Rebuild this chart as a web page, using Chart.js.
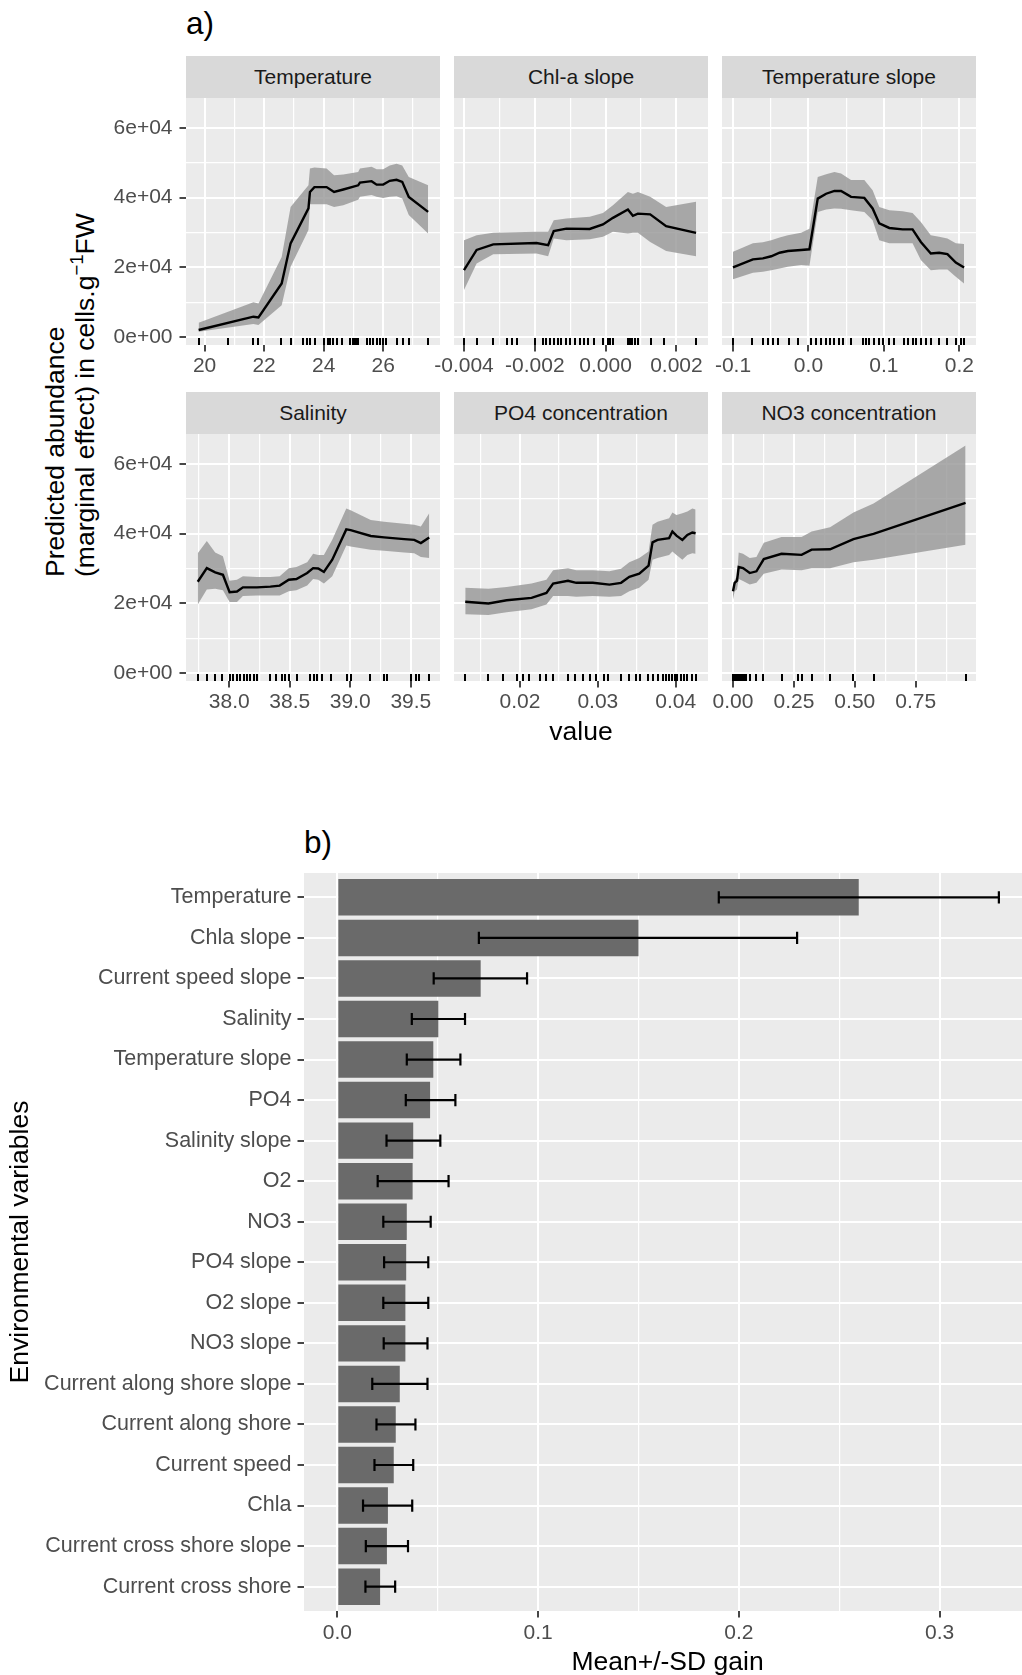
<!DOCTYPE html>
<html>
<head>
<meta charset="utf-8">
<script src="https://cdn.jsdelivr.net/npm/chart.js@4.4.1/dist/chart.umd.min.js"></script>
<style>
html,body{margin:0;padding:0;background:#fff;overflow:hidden;width:1022px;height:1675px;}
body{position:relative;font-family:"Liberation Sans",Arial,sans-serif;}
canvas{position:absolute;}
.strip{position:absolute;background:#D9D9D9;color:#1A1A1A;font-size:21px;display:flex;align-items:center;justify-content:center;white-space:nowrap;}
.tag{position:absolute;font-size:31.5px;line-height:31.5px;color:#000;}
#ytitle{position:absolute;left:40px;top:577px;transform-origin:0 0;transform:rotate(-90deg);font-size:26.5px;line-height:30px;white-space:nowrap;color:#000;}
#ytitle sup{font-size:70%;line-height:0;vertical-align:0.6em;}
</style>
</head>
<body>
<div class="tag" style="left:186px;top:8px;">a)</div>
<div class="tag" style="left:304px;top:827px;">b)</div>
<div id="ytitle">Predicted abundance<br>(marginal effect) in cells.g<sup>−1</sup>FW</div>

<script>
// ---------------- DATA : panel a) partial dependence ----------------
const stripTitles = ['Temperature','Chl-a slope','Temperature slope','Salinity','PO4 concentration','NO3 concentration'];

const yTickVals = [0, 20000, 40000, 60000];
const yTickLabels = ['0e+00','2e+04','4e+04','6e+04'];

// Temperature
const tempX    = [19.80, 21.64, 21.81, 22.59, 22.89, 23.49, 23.54, 23.69, 24.10, 24.35, 24.66, 25.16, 25.22, 25.61, 25.78, 26.00, 26.22, 26.45, 26.64, 26.86, 27.51];
const tempMean = [2100, 5900, 5700, 15400, 26900, 36900, 41600, 43000, 43000, 41600, 42300, 43500, 44300, 44700, 43700, 43700, 44800, 45100, 44500, 40200, 35900];
const tempHigh = [4200, 10000, 9700, 23000, 37300, 43500, 48300, 48600, 48300, 46400, 46600, 47300, 48300, 48800, 48100, 48100, 49200, 49700, 49200, 45900, 43500];
const tempLow  = [1600, 3800, 3500, 9200, 20200, 30700, 38100, 38100, 38100, 37300, 37800, 39400, 40200, 40700, 40200, 39900, 40200, 40400, 39700, 35000, 29700];
const tempRug  = [19.80, 20.80, 21.62, 21.81, 22.57, 22.89, 23.32, 23.43, 23.54, 23.71, 24.01, 24.16, 24.23, 24.32, 24.44, 24.60, 24.88, 24.99, 25.05, 25.11, 25.16, 25.44, 25.55, 25.66, 25.78, 25.89, 26.00, 26.11, 26.45, 26.67, 26.87, 27.51];
const tempTicks = [20, 22, 24, 26];
const tempTickLabels = ['20','22','24','26'];

// Chl-a slope
const chlX    = [-0.00400, -0.003643, -0.003174, -0.001953, -0.001624, -0.001465, -0.001108, -0.000451, -0.000075, 0.000207, 0.000629, 0.000770, 0.000911, 0.001258, 0.001709, 0.002554];
const chlMean = [19200, 25000, 26600, 27000, 26400, 30400, 31100, 31000, 32300, 34200, 36600, 34800, 35400, 35200, 31800, 29900];
const chlHigh = [27800, 29200, 29900, 30200, 30200, 33500, 34000, 34500, 35600, 37800, 41600, 41100, 41600, 40200, 37300, 38800];
const chlLow  = [13500, 21100, 23800, 24000, 23200, 28300, 27800, 28100, 28800, 30200, 29700, 29900, 29900, 27300, 24700, 23200];
const chlRug  = [-0.004000, -0.003643, -0.003174, -0.002798, -0.002657, -0.002498, -0.002000, -0.001765, -0.001671, -0.001577, -0.001465, -0.001343, -0.001249, -0.001108, -0.000995, -0.000873, -0.000732, -0.000620, -0.000498, -0.000338, -0.000075, 0.000066, 0.000131, 0.000207, 0.000629, 0.000676, 0.000751, 0.000817, 0.000911, 0.001286, 0.001662, 0.002554];
const chlTicks = [-0.004, -0.002, 0.000, 0.002];
const chlTickLabels = ['-0.004','-0.002','0.000','0.002'];

// Temperature slope
const tsX    = [-0.1000, -0.0736, -0.0604, -0.0493, -0.0383, -0.0273, -0.0097, 0.0013, 0.0123, 0.0234, 0.0344, 0.0432, 0.0564, 0.0740, 0.0850, 0.0938, 0.1071, 0.1247, 0.1379, 0.1489, 0.1621, 0.1731, 0.1841, 0.1952, 0.2062];
const tsMean = [20000, 22300, 22600, 23200, 24200, 24700, 25000, 25200, 39700, 41100, 41900, 41900, 40200, 39900, 36900, 32600, 31300, 30900, 30900, 27300, 24000, 24200, 23800, 21400, 20000];
const tsHigh = [24500, 26900, 27200, 27800, 28600, 29200, 29900, 31100, 45900, 46700, 47300, 46900, 45000, 45000, 42100, 37300, 36400, 36100, 35600, 33000, 29200, 28800, 28300, 26900, 26700];
const tsLow  = [16600, 18500, 18800, 19200, 19700, 20200, 20700, 20500, 35900, 36600, 36900, 36800, 36400, 35900, 33500, 27800, 26900, 26900, 26900, 22100, 19200, 19400, 19400, 17300, 15400];
const tsRug  = [-0.1000, -0.0744, -0.0604, -0.0537, -0.0471, -0.0405, -0.0260, -0.0141, 0.0035, 0.0101, 0.0167, 0.0233, 0.0286, 0.0344, 0.0410, 0.0454, 0.0564, 0.0727, 0.0762, 0.0806, 0.0872, 0.0938, 0.0982, 0.1070, 0.1137, 0.1269, 0.1313, 0.1379, 0.1423, 0.1489, 0.1555, 0.1621, 0.1731, 0.1841, 0.1952, 0.2018, 0.2062];
const tsTicks = [-0.1, 0.0, 0.1, 0.2];
const tsTickLabels = ['-0.1','0.0','0.1','0.2'];

// Salinity
const salX    = [37.740, 37.815, 37.884, 37.948, 38.003, 38.064, 38.113, 38.229, 38.340, 38.417, 38.492, 38.555, 38.644, 38.693, 38.735, 38.782, 38.851, 38.967, 39.003, 39.169, 39.279, 39.445, 39.528, 39.583, 39.652];
const salMean = [26200, 30100, 28900, 28200, 23200, 23400, 24600, 24600, 24800, 25100, 26800, 27000, 28700, 30100, 30000, 29000, 32500, 41200, 41000, 39300, 38900, 38400, 38200, 37300, 38900];
const salHigh = [34400, 37900, 34600, 33500, 26500, 26800, 27800, 27600, 27600, 27800, 30100, 30400, 31800, 34200, 33900, 33900, 38200, 47200, 46700, 43900, 43400, 42800, 42500, 42000, 45800];
const salLow  = [19700, 24000, 24200, 23800, 20400, 20400, 22100, 22300, 22300, 22300, 23500, 23800, 25100, 27000, 26800, 25700, 27800, 36600, 36300, 35400, 35100, 34600, 34400, 33300, 33000];
const salRug  = [37.740, 37.815, 37.884, 37.939, 38.003, 38.030, 38.064, 38.091, 38.119, 38.146, 38.174, 38.202, 38.229, 38.340, 38.390, 38.436, 38.464, 38.492, 38.561, 38.671, 38.699, 38.727, 38.768, 38.837, 38.975, 39.003, 39.160, 39.279, 39.307, 39.500, 39.541, 39.569, 39.652];
const salTicks = [38.0, 38.5, 39.0, 39.5];
const salTickLabels = ['38.0','38.5','39.0','39.5'];

// PO4 concentration
const po4X    = [0.01298, 0.01596, 0.01830, 0.02149, 0.02340, 0.02426, 0.02617, 0.02723, 0.02936, 0.03149, 0.03298, 0.03404, 0.03532, 0.03651, 0.03702, 0.03766, 0.03915, 0.03957, 0.04009, 0.04085, 0.04149, 0.04213, 0.04255];
const po4Mean = [20500, 20000, 20900, 21600, 23000, 25700, 26500, 25900, 25900, 25400, 25900, 27600, 28500, 30800, 37500, 38200, 38700, 40600, 39400, 38200, 39600, 40300, 40100];
const po4High = [24500, 24200, 24700, 25700, 26800, 29500, 30100, 29500, 29500, 29200, 29900, 31800, 33000, 34900, 42500, 43400, 44400, 46000, 45300, 45800, 46300, 47200, 46900];
const po4Low  = [16900, 16700, 17500, 18300, 19700, 22100, 22100, 21900, 22100, 21900, 22100, 23500, 24500, 26800, 32500, 33000, 33900, 34900, 33900, 32500, 33900, 34400, 34200];
const po4Rug  = [0.01298, 0.01596, 0.01787, 0.01966, 0.02034, 0.02119, 0.02255, 0.02340, 0.02426, 0.02617, 0.02702, 0.02809, 0.02894, 0.02979, 0.03085, 0.03128, 0.03298, 0.03404, 0.03489, 0.03540, 0.03638, 0.03702, 0.03766, 0.03830, 0.03872, 0.03915, 0.03957, 0.03991, 0.04021, 0.04064, 0.04106, 0.04149, 0.04213, 0.04255];
const po4Ticks = [0.02, 0.03, 0.04];
const po4TickLabels = ['0.02','0.03','0.04'];

// NO3 concentration
const no3X    = [0, 0.0069, 0.0165, 0.0234, 0.0412, 0.0687, 0.0962, 0.1264, 0.1992, 0.2816, 0.3228, 0.3984, 0.4945, 0.5769, 0.9547];
const no3Mean = [23500, 25900, 26500, 30400, 30100, 28700, 29200, 32700, 34200, 33900, 35400, 35500, 38400, 39900, 48800];
const no3High = [24900, 26800, 27800, 34600, 34200, 33000, 33300, 37400, 39000, 39000, 40600, 41800, 46000, 48600, 65200];
const no3Low  = [21100, 23500, 24000, 27000, 26400, 25400, 25900, 28500, 29700, 29500, 30100, 30100, 31800, 32500, 36800];
const no3Rug  = [0, 0.0041, 0.0082, 0.0124, 0.0165, 0.0206, 0.0247, 0.0302, 0.0357, 0.0412, 0.0481, 0.0549, 0.0687, 0.0962, 0.1236, 0.1992, 0.2679, 0.2816, 0.3228, 0.3984, 0.4945, 0.5769, 0.9547];
const no3Ticks = [0, 0.25, 0.50, 0.75];
const no3TickLabels = ['0.00','0.25','0.50','0.75'];

// ---------------- DATA : panel b) variable importance ----------------
const barCategories = ['Temperature','Chla slope','Current speed slope','Salinity','Temperature slope','PO4','Salinity slope','O2','NO3','PO4 slope','O2 slope','NO3 slope','Current along shore slope','Current along shore','Current speed','Chla','Current cross shore slope','Current cross shore'];
const barMean = [0.2597, 0.1500, 0.0714, 0.0503, 0.0478, 0.0462, 0.0378, 0.0375, 0.0346, 0.0343, 0.0339, 0.0339, 0.0311, 0.0291, 0.0281, 0.0252, 0.0247, 0.0213];
const barLow  = [0.1900, 0.0705, 0.0480, 0.0371, 0.0346, 0.0341, 0.0245, 0.0201, 0.0229, 0.0233, 0.0229, 0.0231, 0.0174, 0.0195, 0.0185, 0.0128, 0.0142, 0.0140];
const barHigh = [0.3295, 0.2290, 0.0945, 0.0636, 0.0613, 0.0588, 0.0513, 0.0554, 0.0465, 0.0453, 0.0453, 0.0449, 0.0449, 0.0389, 0.0378, 0.0373, 0.0352, 0.0288];
const barTicks = [0.0, 0.1, 0.2, 0.3];
const barTickLabels = ['0.0','0.1','0.2','0.3'];

// ---------------- styling / layout ----------------
const FONT = '"Liberation Sans", Arial, sans-serif';
Chart.defaults.font.family = FONT;
const PANEL_BG = '#EBEBEB';
const RIBBON = 'rgba(150,150,150,0.8)';
const TICK_COL = '#4D4D4D';
const TICK_MARK = '#333333';
const PAD_TOP = 30;

const bgPlugin = {
  id: 'panelBg',
  beforeDraw(chart) {
    const {ctx, chartArea: a} = chart;
    ctx.save();
    ctx.fillStyle = PANEL_BG;
    ctx.fillRect(a.left, a.top, a.right - a.left, a.bottom - a.top);
    ctx.restore();
  }
};

const rugPlugin = {
  id: 'rug',
  afterDatasetsDraw(chart, args, opts) {
    const vals = opts.values || [];
    const {ctx, chartArea: a} = chart;
    const xs = chart.scales.x;
    ctx.save();
    ctx.strokeStyle = '#000';
    ctx.lineWidth = 2;
    ctx.beginPath();
    vals.forEach(v => {
      const px = Math.round(xs.getPixelForValue(v));
      ctx.moveTo(px, a.bottom);
      ctx.lineTo(px, a.bottom - 7);
    });
    ctx.stroke();
    ctx.restore();
  }
};

function mkTicks(major, labels, min, max) {
  const t = major.map((v, i) => ({value: v, lbl: labels[i], minor: false}));
  const step = major[1] - major[0];
  for (let i = -1; i < major.length; i++) {
    const v = major[0] + (i + 0.5) * step;
    if (v > min && v < max) t.push({value: v, lbl: '', minor: true});
  }
  return t.sort((a, b) => a.value - b.value);
}
const isMinor = c => !!(c.tick && c.tick.minor);

function gridOpts(drawTicks) {
  return {
    color: '#FFFFFF',
    lineWidth: c => isMinor(c) ? 1.2 : 2,
    drawTicks: drawTicks,
    tickLength: 6.5,
    tickWidth: 1.8,
    tickColor: c => isMinor(c) ? 'rgba(0,0,0,0)' : TICK_MARK
  };
}

const Y_MIN = -2204, Y_MAX = 68503;
const colLeft = [186, 454, 722];
const rowTop = [98, 434];
const PW = 254, PH = 247;

function facet(idx, xMin, xMax, ticks, tickLabels, xs, mean, low, high, rug, xTitle) {
  const col = idx % 3, row = Math.floor(idx / 3);
  const first = col === 0;
  const yW = first ? 85 : 0;
  const padL = first ? 0 : 40;
  const padR = 30;
  const hX = xTitle ? 69 : 40;
  const L = colLeft[col], T = rowTop[row];

  const strip = document.createElement('div');
  strip.className = 'strip';
  strip.style.left = L + 'px';
  strip.style.top = (T - 42) + 'px';
  strip.style.width = PW + 'px';
  strip.style.height = '42px';
  strip.textContent = stripTitles[idx];
  document.body.appendChild(strip);

  const cv = document.createElement('canvas');
  const W = padL + yW + PW + padR, H = PAD_TOP + PH + hX;
  cv.width = W; cv.height = H;
  cv.style.width = W + 'px'; cv.style.height = H + 'px';
  cv.style.left = (L - padL - yW) + 'px';
  cv.style.top = (T - PAD_TOP) + 'px';
  document.body.appendChild(cv);

  const pts = ys => xs.map((x, i) => ({x: x, y: ys[i]}));

  new Chart(cv, {
    type: 'line',
    data: {
      datasets: [
        {data: pts(mean), fill: false, borderColor: '#000000', borderWidth: 2.4, pointRadius: 0, tension: 0},
        {data: pts(high), fill: '+1', backgroundColor: RIBBON, borderColor: 'rgba(0,0,0,0)', borderWidth: 0, pointRadius: 0, tension: 0},
        {data: pts(low), fill: false, borderColor: 'rgba(0,0,0,0)', borderWidth: 0, pointRadius: 0, tension: 0}
      ]
    },
    options: {
      responsive: false, animation: false, devicePixelRatio: 1,
      layout: {padding: {left: padL, right: padR, top: PAD_TOP, bottom: 0}},
      plugins: {legend: {display: false}, tooltip: {enabled: false}, rug: {values: rug}},
      scales: {
        x: {
          type: 'linear', position: 'bottom', bounds: 'data', min: xMin, max: xMax, offset: false,
          afterBuildTicks: s => { s.ticks = mkTicks(ticks, tickLabels, xMin, xMax); },
          afterFit: s => { s.height = hX; },
          ticks: {autoSkip: false, maxRotation: 0, minRotation: 0, padding: 2, color: TICK_COL, font: {size: 21},
                  callback: (v, i, t) => t[i].lbl},
          grid: gridOpts(true),
          border: {display: false},
          title: xTitle ? {display: true, text: xTitle, color: '#000', font: {size: 26.5}, padding: {top: 0, bottom: 1}} : {display: false}
        },
        y: {
          type: 'linear', position: 'left', bounds: 'data', min: Y_MIN, max: Y_MAX, offset: false,
          afterBuildTicks: s => { s.ticks = mkTicks(yTickVals, yTickLabels, Y_MIN, Y_MAX); },
          afterFit: s => { s.width = yW; },
          ticks: {display: first, padding: 7, color: TICK_COL, font: {size: 21}, autoSkip: false,
                  callback: (v, i, t) => t[i].lbl},
          grid: gridOpts(first),
          border: {display: false}
        }
      }
    },
    plugins: [bgPlugin, rugPlugin]
  });
}

facet(0, 19.376, 27.909, tempTicks, tempTickLabels, tempX, tempMean, tempLow, tempHigh, tempRug, null);
facet(1, -0.004282, 0.002891, chlTicks, chlTickLabels, chlX, chlMean, chlLow, chlHigh, chlRug, null);
facet(2, -0.11455, 0.22196, tsTicks, tsTickLabels, tsX, tsMean, tsLow, tsHigh, tsRug, null);
facet(3, 37.643, 39.741, salTicks, salTickLabels, salX, salMean, salLow, salHigh, salRug, null);
facet(4, 0.011538, 0.04414, po4Ticks, po4TickLabels, po4X, po4Mean, po4Low, po4High, po4Rug, 'value');
facet(5, -0.0451, 0.9975, no3Ticks, no3TickLabels, no3X, no3Mean, no3Low, no3High, no3Rug, null);

// ---------------- panel b) ----------------
const ERR_CAP = 0.3;
const errPlugin = {
  id: 'errbars',
  afterDatasetsDraw(chart) {
    const {ctx} = chart;
    const xs = chart.scales.x, ys = chart.scales.y;
    ctx.save();
    ctx.strokeStyle = '#000';
    ctx.lineWidth = 2.2;
    barMean.forEach((m, i) => {
      const y = ys.getPixelForValue(i + 1);
      const h = Math.abs(ys.getPixelForValue(i + 1 + ERR_CAP / 2) - y);
      const x1 = xs.getPixelForValue(barLow[i]);
      const x2 = xs.getPixelForValue(barHigh[i]);
      ctx.beginPath();
      ctx.moveTo(x1, y); ctx.lineTo(x2, y);
      ctx.moveTo(x1, y - h); ctx.lineTo(x1, y + h);
      ctx.moveTo(x2, y - h); ctx.lineTo(x2, y + h);
      ctx.stroke();
    });
    ctx.restore();
  }
};

(function () {
  const B_MINX = -0.0166, B_MAXX = 0.3455;
  const HX = 68;
  const cv = document.createElement('canvas');
  const W = 1031, H = PAD_TOP + 738 + HX;
  cv.width = W; cv.height = H;
  cv.style.width = W + 'px'; cv.style.height = H + 'px';
  cv.style.left = '0px'; cv.style.top = (873 - PAD_TOP) + 'px';
  document.body.appendChild(cv);

  new Chart(cv, {
    type: 'bar',
    data: {
      datasets: [{
        data: barMean.map((v, i) => ({x: v, y: i + 1})),
        backgroundColor: '#6A6A6A', borderWidth: 0,
        barPercentage: 0.9, categoryPercentage: 1.0
      }]
    },
    options: {
      indexAxis: 'y',
      responsive: false, animation: false, devicePixelRatio: 1,
      layout: {padding: {left: 0, right: 0, top: PAD_TOP, bottom: 0}},
      plugins: {legend: {display: false}, tooltip: {enabled: false}},
      scales: {
        x: {
          type: 'linear', position: 'bottom', bounds: 'data', min: B_MINX, max: B_MAXX, offset: false, beginAtZero: false,
          afterBuildTicks: s => { s.ticks = mkTicks(barTicks, barTickLabels, B_MINX, B_MAXX); },
          afterFit: s => { s.height = HX; },
          ticks: {autoSkip: false, maxRotation: 0, minRotation: 0, padding: 3, color: TICK_COL, font: {size: 21},
                  callback: (v, i, t) => t[i].lbl},
          grid: gridOpts(true),
          border: {display: false},
          title: {display: true, text: 'Mean+/-SD gain', color: '#000', font: {size: 26.5}, padding: {top: 0, bottom: 0}}
        },
        y: {
          type: 'linear', position: 'left', reverse: true, bounds: 'data', min: 0.4, max: 18.6, offset: false,
          afterBuildTicks: s => { s.ticks = barCategories.map((c, i) => ({value: i + 1, lbl: c, minor: false})); },
          afterFit: s => { s.width = 304; },
          ticks: {autoSkip: false, padding: 6, color: TICK_COL, font: {size: 21.5},
                  callback: (v, i, t) => t[i].lbl},
          grid: Object.assign(gridOpts(true), {offset: false}),
          border: {display: false},
          title: {display: true, text: 'Environmental variables', color: '#000', font: {size: 26.5}, padding: {top: 5, bottom: 0}}
        }
      }
    },
    plugins: [bgPlugin, errPlugin]
  });
})();
</script>
</body>
</html>
